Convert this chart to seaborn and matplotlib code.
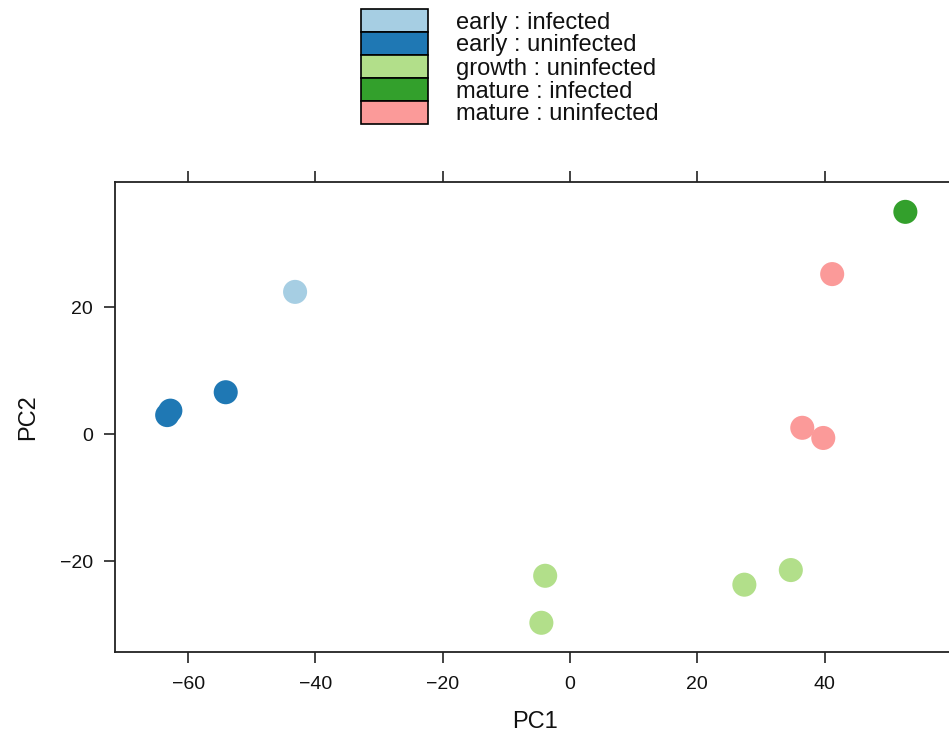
import matplotlib
matplotlib.use("Agg")
import matplotlib.pyplot as plt
from matplotlib.patches import Rectangle
import seaborn as sns
import pandas as pd

groups = ["early : infected", "early : uninfected", "growth : uninfected",
          "mature : infected", "mature : uninfected"]
colors = ["#A6CEE3", "#1F78B4", "#B2DF8A", "#33A02C", "#FB9A99"]

pc1 = [-43.2, -63.3, -62.8, -54.1, -3.9, -4.5, 27.4, 34.7, 52.7, 41.2, 36.5, 39.8]
pc2 = [22.4, 3.0, 3.7, 6.6, -22.3, -29.7, -23.7, -21.4, 35.0, 25.2, 1.0, -0.6]
group = ["early : infected",
         "early : uninfected", "early : uninfected", "early : uninfected",
         "growth : uninfected", "growth : uninfected", "growth : uninfected", "growth : uninfected",
         "mature : infected",
         "mature : uninfected", "mature : uninfected", "mature : uninfected"]
xticks = [-60, -40, -20, 0, 20, 40]
yticks = [-20, 0, 20]

df = pd.DataFrame({"PC1": pc1, "PC2": pc2, "group": group})

sns.set_style("white")
plt.rcParams["font.family"] = ["Liberation Sans", "DejaVu Sans"]

W, H = 949, 736
fig = plt.figure(figsize=(W / 100, H / 100), dpi=100)
ax = fig.add_axes([115 / W, 1 - 652 / H, (955 - 115) / W, (652 - 182) / H])

sns.scatterplot(data=df, x="PC1", y="PC2", hue="group", hue_order=groups,
                palette=colors, s=300, edgecolor="none", linewidth=0,
                legend=False, ax=ax)

ax.set_xlim(-71.5, 60.5)
ax.set_ylim(-34.3, 39.7)
ax.set_xticks(xticks)
ax.set_yticks(yticks)
ax.tick_params(axis="both", direction="out", length=8, width=1.2, color="#222222",
               labelsize=14, labelcolor="#111111", top=True, right=True, bottom=True,
               left=True, labeltop=False, labelright=False)
ax.tick_params(axis="x", pad=9)
ax.tick_params(axis="y", pad=8)
for sp in ax.spines.values():
    sp.set_visible(True)
    sp.set_color("#222222")
    sp.set_linewidth(1.3)
ax.set_xlabel("PC1", fontsize=17, labelpad=13, color="#111111")
ax.set_ylabel("PC2", fontsize=17, labelpad=15, color="#111111")

# legend (key boxes stacked, labels to the right)
bx0, bx1, by0, row = 361, 428, 9, 23
for i, (c, lab) in enumerate(zip(colors, groups)):
    y_top = by0 + i * row
    fig.patches.append(Rectangle((bx0 / W, 1 - (y_top + row) / H), (bx1 - bx0) / W, row / H,
                                 transform=fig.transFigure, facecolor=c,
                                 edgecolor="black", linewidth=1.2))
    fig.text(456 / W, 1 - (y_top + row / 2 + 2) / H, lab, fontsize=17,
             color="#111111", ha="left", va="center")

fig.savefig("out.png", dpi=100)
